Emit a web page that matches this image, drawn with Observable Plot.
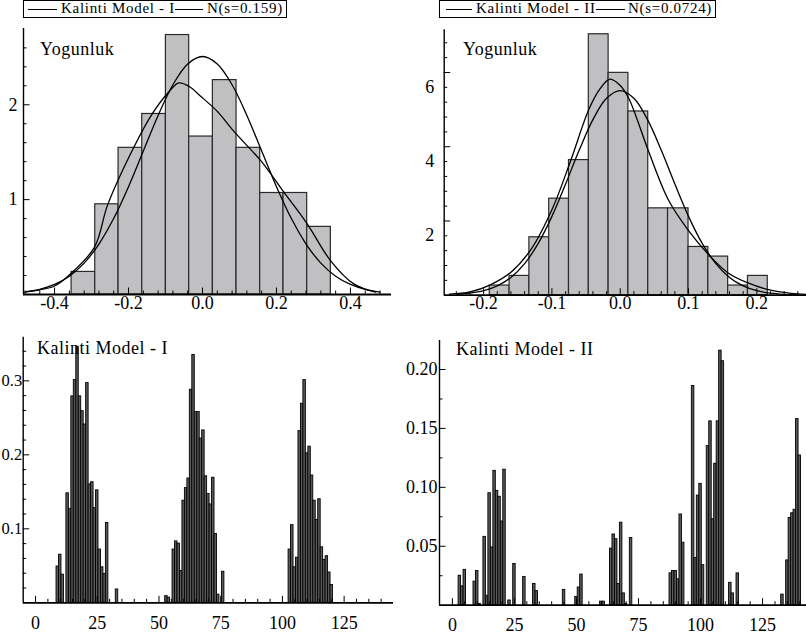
<!DOCTYPE html>
<html><head><meta charset="utf-8">
<script src="https://cdn.jsdelivr.net/npm/d3@7"></script>
<script src="https://cdn.jsdelivr.net/npm/@observablehq/plot@0.6"></script>
<style>
body{margin:0;background:#fff;}
#wrap{position:relative;width:806px;height:635px;overflow:hidden;background:#fff;font-family:"Liberation Serif",serif;color:#000;}
.legend{position:absolute;border:1px solid #000;background:#fff;box-sizing:border-box;font-size:15px;letter-spacing:0.7px;}
.legend span{position:absolute;top:-1px;line-height:17px;white-space:nowrap;}
.legend i{position:absolute;top:8px;height:0;border-top:1.4px solid #000;}
.ptitle{position:absolute;font-size:18px;line-height:18px;white-space:nowrap;}
</style></head><body><div id="wrap"></div>
<script>
// ---------- data ----------
// Top-left histogram (Kalinti Model - I)
const tlEdges = [-0.354,-0.290,-0.227,-0.163,-0.099,-0.036,0.028,0.092,0.156,0.219,0.283,0.347];
const tlDensity = [0.238,0.951,1.546,1.903,2.735,1.665,2.260,1.546,1.070,1.070,0.713];
const tlKdeX = [-0.478,-0.44,-0.40,-0.352,-0.292,-0.256,-0.186,-0.136,-0.09,-0.064,-0.035,-0.005,0.04,0.085,0.157,0.188,0.22,0.283,0.346,0.409,0.468];
const tlKdeY = [0.03,0.05,0.09,0.235,0.50,0.95,1.55,1.905,2.14,2.23,2.19,2.09,1.93,1.72,1.413,1.254,1.079,0.745,0.358,0.112,0.025];
const tlNormX = [-0.48,-0.44,-0.40,-0.36,-0.32,-0.28,-0.24,-0.20,-0.16,-0.12,-0.08,-0.04,0,0.04,0.08,0.12,0.16,0.20,0.24,0.28,0.32,0.36,0.40,0.44,0.48];
const tlNormY = [0.026,0.055,0.106,0.193,0.331,0.532,0.803,1.137,1.512,1.887,2.211,2.431,2.509,2.431,2.211,1.887,1.512,1.137,0.803,0.532,0.331,0.193,0.106,0.055,0.026];
const tlXTicks = [-0.4,-0.2,0,0.2,0.4];
const tlYTicks = [1,2];

// Top-right histogram (Kalinti Model - II)
const trEdges = [-0.191,-0.162,-0.133,-0.104,-0.075,-0.046,-0.017,0.012,0.041,0.070,0.100,0.129,0.158,0.187,0.216];
const trDensity = [0.26,0.52,1.56,2.60,3.64,7.03,5.99,4.95,2.34,2.34,1.30,1.04,0.26,0.52];
const trKdeX = [-0.25,-0.22,-0.19,-0.16,-0.13,-0.10,-0.073,-0.046,-0.03,-0.015,0.0,0.0126,0.042,0.071,0.10,0.13,0.158,0.187,0.217,0.25,0.272];
const trKdeY = [0.03,0.09,0.28,0.62,1.25,2.3,3.6,5.0,5.55,5.82,5.65,5.3,3.85,2.55,1.74,1.08,0.6,0.33,0.15,0.05,0.02];
const trNormX = [-0.24,-0.22,-0.20,-0.18,-0.16,-0.14,-0.12,-0.10,-0.08,-0.06,-0.04,-0.02,0,0.02,0.04,0.06,0.08,0.10,0.12,0.14,0.16,0.18,0.20,0.22,0.24,0.26];
const trNormY = [0.023,0.055,0.121,0.251,0.479,0.850,1.395,2.123,2.993,3.909,4.730,5.304,5.510,5.304,4.730,3.909,2.993,2.123,1.395,0.850,0.479,0.251,0.121,0.055,0.023,0.009];
const trXTicks = [-0.2,-0.1,0,0.1,0.2];
const trYTicks = [2,4,6];

// Bottom-left residuals (Kalinti Model - I)
const blTime = [9,10,11,13,14,15,16,17,18,19,20,21,22,23,24,25,26,27,28,29,33,
  53,54,56,57,58,59,60,61,62,63,64,65,66,67,68,69,70,71,72,73,74,76,
  103,104,105,106,107,108,109,110,111,112,113,114,115,116,117,118,119,120];
const blResid = [0.049,0.065,0.038,0.148,0.127,0.279,0.301,0.346,0.279,0.259,0.241,0.297,0.160,0.163,0.128,0.152,0.072,0.048,0.039,0.108,0.018,
  0.009,0.007,0.072,0.083,0.080,0.043,0.138,0.155,0.168,0.288,0.335,0.258,0.258,0.222,0.233,0.171,0.147,0.133,0.169,0.093,0.011,0.042,
  0.072,0.105,0.048,0.061,0.232,0.269,0.301,0.202,0.211,0.172,0.138,0.112,0.140,0.075,0.058,0.063,0.041,0.024];
const blXTicks = [0,25,50,75,100,125];
const blYTicks = [0.1,0.2,0.3];

// Bottom-right residuals (Kalinti Model - II)
const brTime = [3,4,5,9,10,11,13,14,15,16,17,18,19,20,21,23,25,29,33,34,45,50,51,52,60,61,
  64,65,66,67,68,69,70,72,88,89,90,91,92,93,97,98,99,100,101,103,104,105,106,107,108,109,112,113,115,
  133,135,136,137,138,139,140];
const brResid = [0.025,0.016,0.030,0.020,0.029,0.001,0.058,0.008,0.095,0.049,0.114,0.097,0.092,0.071,0.115,0.004,0.035,0.024,0.018,0.012,0.013,0.007,0.015,0.026,0.003,0.003,
  0.048,0.060,0.056,0.018,0.070,0.010,0.001,0.057,0.027,0.029,0.029,0.022,0.077,0.053,0.186,0.040,0.093,0.103,0.034,0.135,0.156,0.073,0.120,0.156,0.216,0.207,0.019,0.010,0.027,
  0.009,0.038,0.074,0.078,0.081,0.158,0.127];
const brXTicks = [0,25,50,75,100,125];
const brYTicks = [0.05,0.10,0.15,0.20];

// ---------- drawing ----------
const wrap = document.getElementById("wrap");
const pts = (xs, ys) => xs.map((x, i) => ({x, y: ys[i]}));
const bins = (edges, ys) => ys.map((y, i) => ({x1: edges[i], x2: edges[i + 1], y}));
const bars = (ts, vs) => ts.map((t, i) => ({x1: t - 0.5, x2: t + 0.5, y: vs[i]}));

function panel(c) {
  const pw = c.width - c.mL - c.mR, ph = c.height - c.mT - c.mB;
  const svg = Plot.plot({
    width: c.width, height: c.height,
    marginLeft: c.mL, marginRight: c.mR, marginTop: c.mT, marginBottom: c.mB,
    x: {domain: c.xDomain}, y: {domain: c.yDomain},
    style: {fontFamily: "'Liberation Serif', serif", fontSize: "18px", background: "transparent", overflow: "visible", color: "#000"},
    marks: [
      ...c.marks,
      Plot.tickX(c.xMinor, {x: d => d, insetTop: ph - 3.5, stroke: "#000"}),
      Plot.tickX(c.xMajor, {x: d => d, insetTop: ph - 6.5, stroke: "#000"}),
      Plot.tickY(c.yMinor, {y: d => d, insetRight: pw - 3.5, stroke: "#000"}),
      Plot.tickY(c.yMajor, {y: d => d, insetRight: pw - 6.5, stroke: "#000"}),
      Plot.ruleY([c.yDomain[0]], {stroke: "#000", strokeWidth: 1.8}),
      Plot.ruleX([c.xDomain[0]], {stroke: "#000", strokeWidth: 1.4}),
      Plot.axisX({ticks: c.xMajor, tickSize: 0, tickPadding: c.xPad, tickFormat: c.xFmt, fill: "#000", label: null}),
      Plot.axisY({ticks: c.yMajor, tickSize: 0, tickPadding: c.yPad, tickFormat: c.yFmt, dy: c.yDy || 0, fill: "#000", label: null, fontSize: c.yFont || 18})
    ]
  });
  svg.style.position = "absolute";
  svg.style.left = c.left + "px";
  svg.style.top = c.top + "px";
  wrap.appendChild(svg);
}

const histFill = {fill: "#c0c0c3", stroke: "#2a2a2a", strokeWidth: 1.2};
const curve = {x: "x", y: "y", curve: "catmull-rom", stroke: "#000", strokeWidth: 1.3};
const barStyle = {fill: "#5a5a5a", stroke: "#000", strokeWidth: 0.9};

panel({
  left: 0, top: 0, width: 403, height: 310, mL: 23, mR: 12, mT: 28, mB: 16,
  xDomain: [-0.484, 0.511], yDomain: [0, 2.804],
  xMajor: tlXTicks, xMinor: d3.range(-12, 13).map(i => i * 0.04).filter(v => Math.abs(v / 0.2 - Math.round(v / 0.2)) > 1e-6),
  yMajor: tlYTicks, yMinor: d3.range(1, 14).map(i => i * 0.2).filter(v => Math.abs(v - Math.round(v)) > 1e-6),
  xFmt: d => d.toFixed(1), yFmt: d => String(d), xPad: 1.5, yPad: 6,
  marks: [
    Plot.rect(bins(tlEdges, tlDensity), {x1: "x1", x2: "x2", y1: 0, y2: "y", ...histFill}),
    Plot.line(pts(tlKdeX, tlKdeY), curve),
    Plot.line(pts(tlNormX, tlNormY), curve)
  ]
});

panel({
  left: 403, top: 0, width: 403, height: 310, mL: 40.7, mR: 0, mT: 29.3, mB: 15.3,
  xDomain: [-0.2577, 0.2727], yDomain: [0, 7.15],
  xMajor: trXTicks, xMinor: d3.range(-12, 14).map(i => i * 0.02).filter(v => Math.abs(v / 0.1 - Math.round(v / 0.1)) > 1e-6),
  yMajor: trYTicks, yMinor: d3.range(1, 18).map(i => i * 0.4).filter(v => Math.abs(v / 2 - Math.round(v / 2)) > 1e-6),
  xFmt: d => d.toFixed(1), yFmt: d => String(d), xPad: 1.5, yPad: 10, yDy: 14.6,
  marks: [
    Plot.rect(bins(trEdges, trDensity), {x1: "x1", x2: "x2", y1: 0, y2: "y", ...histFill}),
    Plot.line(pts(trKdeX, trKdeY), curve),
    Plot.line(pts(trNormX, trNormY), curve)
  ]
});

panel({
  left: 0, top: 310, width: 403, height: 325, mL: 22.7, mR: 10, mT: 26.7, mB: 32.7,
  xDomain: [-5, 145], yDomain: [0, 0.359],
  xMajor: blXTicks, xMinor: d3.range(1, 29).map(i => i * 5).filter(v => v % 25 !== 0),
  yMajor: blYTicks, yMinor: d3.range(1, 18).map(i => i * 0.02).filter(v => Math.abs(v * 10 - Math.round(v * 10)) > 1e-6),
  xFmt: d => String(d), yFmt: d => d.toFixed(1), xPad: 13, yPad: 1, yFont: 16.5,
  marks: [Plot.rect(bars(blTime, blResid), {x1: "x1", x2: "x2", y1: 0, y2: "y", ...barStyle})]
});

panel({
  left: 403, top: 310, width: 403, height: 325, mL: 36, mR: 0, mT: 30, mB: 30.3,
  xDomain: [-5.2, 142.7], yDomain: [0, 0.2246],
  xMajor: brXTicks, xMinor: d3.range(1, 29).map(i => i * 5).filter(v => v % 25 !== 0),
  yMajor: brYTicks, yMinor: d3.range(1, 9).map(i => i * 0.025).filter(v => Math.abs(v * 20 - Math.round(v * 20)) > 1e-6),
  xFmt: d => String(d), yFmt: d => d.toFixed(2), xPad: 13, yPad: 2,
  marks: [Plot.rect(bars(brTime, brResid), {x1: "x1", x2: "x2", y1: 0, y2: "y", ...barStyle})]
});

// titles inside panels
function label(text, x, y, ls) {
  const d = document.createElement("div");
  d.className = "ptitle"; d.textContent = text;
  d.style.left = x + "px"; d.style.top = y + "px"; d.style.letterSpacing = ls + "px";
  wrap.appendChild(d);
}
label("Yogunluk", 40, 40, 0.5);
label("Yogunluk", 463, 40, 0.5);
label("Kalinti Model - I", 37, 339, 0.5);
label("Kalinti Model - II", 456, 340, 0.5);

// legends above the top panels
function legend(x, w, h, items) {
  const d = document.createElement("div");
  d.className = "legend";
  d.style.left = x + "px"; d.style.top = "0px"; d.style.width = w + "px"; d.style.height = h + "px";
  for (const it of items) {
    const ln = document.createElement("i");
    ln.style.left = it.l0 + "px"; ln.style.width = it.lw + "px";
    d.appendChild(ln);
    const s = document.createElement("span");
    s.style.left = it.t0 + "px"; s.textContent = it.text;
    d.appendChild(s);
  }
  wrap.appendChild(d);
}
legend(23, 264, 17.5, [
  {l0: 4, lw: 29, t0: 37, text: "Kalinti Model - I"},
  {l0: 151, lw: 28, t0: 183, text: "N(s=0.159)"}
]);
legend(439, 277, 18, [
  {l0: 6, lw: 26, t0: 36, text: "Kalinti Model - II"},
  {l0: 156, lw: 29, t0: 188, text: "N(s=0.0724)"}
]);
</script></body></html>
